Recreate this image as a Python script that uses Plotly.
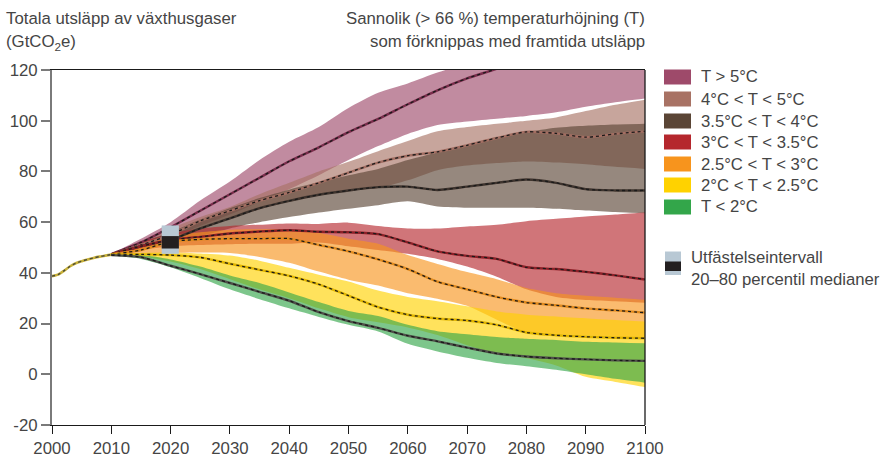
import plotly.graph_objects as go

# ---------------- data ----------------
HIST_YEARS = [2000, 2001, 2002, 2003, 2004, 2005, 2006, 2007, 2008, 2009, 2010]
HIST_VALUES = [38.7, 39.3, 40.8, 42.5, 43.8, 44.6, 45.3, 45.9, 46.4, 46.8, 47.2]

YEARS = [2010, 2015, 2020, 2025, 2030, 2035, 2040, 2045, 2050, 2055,
         2060, 2065, 2070, 2075, 2080, 2085, 2090, 2095, 2100]

CATEGORIES = ["T > 5°C", "4°C < T < 5°C", "3.5°C < T < 4°C", "3°C < T < 3.5°C",
              "2.5°C < T < 3°C", "2°C < T < 2.5°C", "T < 2°C"]

# T > 5°C
T5_UPPER = [47.5, 53.5, 60.0, 68.5, 76.0, 84.5, 91.7, 97.5, 105.0, 111.0,
            114.7, 119.0, 122.5, 125.0, 127.0, 128.5, 130.0, 131.0, 132.0]
T5_MEDIAN = [47.4, 52.0, 58.0, 64.5, 71.0, 77.5, 84.0, 89.5, 95.5, 100.7,
             106.5, 112.0, 116.7, 120.5, 125.0, 128.0, 130.0, 132.0, 134.0]
T5_LOWER = [47.3, 51.0, 54.0, 58.5, 63.0, 68.0, 73.0, 78.5, 84.5, 90.0,
            94.8, 98.3, 99.7, 100.8, 101.9, 103.3, 105.5, 107.3, 108.8]

# 4°C < T < 5°C
T45_UPPER = [47.4, 52.5, 57.5, 62.0, 66.0, 71.0, 75.5, 80.0, 83.8, 88.0,
             92.0, 95.8, 97.5, 98.8, 100.0, 101.3, 103.8, 106.3, 108.3]
T45_MEDIAN = [47.3, 51.0, 55.0, 60.5, 64.5, 68.5, 71.7, 75.5, 79.5, 83.5,
              86.2, 87.7, 90.3, 93.2, 95.6, 95.0, 93.5, 94.8, 95.8]
T45_LOWER = [47.2, 50.0, 52.5, 57.0, 61.5, 65.0, 68.0, 70.5, 72.5, 73.5,
             76.5, 80.5, 82.3, 83.3, 83.9, 83.5, 82.8, 81.8, 81.0]

# 3.5°C < T < 4°C
T354_UPPER = [47.4, 52.0, 56.0, 61.0, 65.5, 69.5, 72.8, 75.8, 78.5, 81.0,
              84.5, 87.5, 90.0, 93.5, 95.5, 97.2, 98.0, 98.5, 98.8]
T354_MEDIAN = [47.3, 50.5, 53.0, 57.5, 61.5, 65.5, 68.4, 70.8, 72.5, 73.8,
               74.0, 72.7, 74.0, 75.5, 76.8, 75.5, 73.0, 72.5, 72.5]
T354_LOWER = [47.2, 49.5, 52.0, 54.5, 57.5, 60.0, 62.0, 63.8, 65.3, 66.7,
              68.2, 66.2, 65.7, 65.7, 65.7, 65.3, 64.6, 64.0, 63.5]

# 3°C < T < 3.5°C
T335_UPPER = [47.4, 52.0, 55.5, 57.5, 58.5, 59.0, 59.5, 59.3, 59.8, 58.5,
              57.5, 57.5, 58.3, 59.0, 60.4, 61.3, 62.2, 63.0, 63.8]
T335_MEDIAN = [47.3, 50.5, 53.0, 54.2, 55.5, 56.3, 56.8, 56.2, 56.0, 55.3,
               52.0, 48.5, 46.7, 45.5, 42.2, 41.5, 40.4, 39.0, 37.4]
T335_LOWER = [47.2, 49.0, 50.5, 51.0, 51.3, 51.5, 51.5, 52.0, 50.5, 49.0,
              47.5, 45.5, 42.5, 38.5, 33.5, 30.5, 29.3, 28.8, 28.2]

# 2.5°C < T < 3°C
T253_UPPER = [47.3, 51.5, 54.5, 56.0, 57.0, 57.2, 57.0, 55.8, 53.5, 51.5,
              47.0, 43.5, 40.3, 37.5, 34.0, 32.0, 31.0, 30.2, 29.4]
T253_MEDIAN = [47.3, 49.0, 52.3, 53.2, 53.5, 53.5, 53.5, 51.0, 48.5, 45.3,
               41.5, 36.5, 33.5, 30.5, 28.3, 27.2, 26.0, 25.2, 24.3]
T253_LOWER = [47.2, 47.5, 47.8, 48.0, 47.8, 46.3, 44.0, 40.5, 37.3, 35.0,
              32.0, 29.8, 27.0, 21.5, 16.5, 15.8, 15.3, 14.8, 14.2]

# 2°C < T < 2.5°C
T225_UPPER = [47.3, 47.8, 48.0, 47.6, 46.8, 44.8, 42.0, 39.3, 36.6, 33.0,
              30.5, 28.8, 26.8, 24.8, 23.5, 22.8, 22.1, 21.4, 20.8]
T225_MEDIAN = [47.2, 47.3, 47.0, 46.1, 43.6, 41.2, 38.8, 35.5, 31.0, 26.5,
               23.5, 22.0, 21.2, 19.5, 16.5, 15.4, 14.8, 14.4, 14.2]
T225_LOWER = [47.0, 46.5, 44.5, 41.5, 37.5, 33.5, 30.0, 26.0, 22.5, 20.5,
              18.5, 15.5, 11.5, 8.0, 6.3, 3.5, -1.0, -3.0, -5.0]

# T < 2°C
T2_UPPER = [47.2, 47.0, 45.3, 42.5, 39.0, 36.0, 32.3, 28.5, 25.0, 23.0,
            19.5, 17.0, 15.8, 14.7, 14.0, 13.5, 12.8, 12.5, 12.2]
T2_MEDIAN = [47.0, 46.2, 42.8, 39.5, 36.0, 32.5, 29.0, 24.5, 21.0, 18.3,
             15.2, 13.0, 10.5, 8.2, 7.0, 6.3, 5.9, 5.5, 5.3]
T2_LOWER = [46.8, 45.5, 42.2, 38.0, 33.5, 29.6, 26.0, 22.6, 19.5, 16.9,
            12.0, 9.0, 6.5, 4.5, 3.2, 1.8, 0.0, -1.8, -3.3]

PLEDGE_YEAR = 2020
PLEDGE_RANGE = [47.5, 58.7]
PLEDGE_MEDIANS = [49.6, 54.5]

X_TICKS = list(range(2000, 2101, 10))
Y_TICKS = list(range(-20, 121, 20))

# ---------------- styles ----------------
SWATCH = ["#9e4a6a", "#a87264", "#5a4535", "#b5272d", "#f7941d", "#ffd200", "#33a64a"]
ALPHA = 0.64
MED_UNDER = ["#7a2d4c", "#a36e62", "#3f342e", "#8e2028", "#e08a1e", "#e2b600", "#4f504a"]

bands = [
    (T5_LOWER, T5_MEDIAN, T5_UPPER),
    (T45_LOWER, T45_MEDIAN, T45_UPPER),
    (T354_LOWER, T354_MEDIAN, T354_UPPER),
    (T335_LOWER, T335_MEDIAN, T335_UPPER),
    (T253_LOWER, T253_MEDIAN, T253_UPPER),
    (T225_LOWER, T225_MEDIAN, T225_UPPER),
    (T2_LOWER, T2_MEDIAN, T2_UPPER),
]


def rgba(hexc, a):
    h = hexc.lstrip("#")
    r, g, b = int(h[0:2], 16), int(h[2:4], 16), int(h[4:6], 16)
    return f"rgba({r},{g},{b},{a})"


FONT = "Liberation Sans, Arial, sans-serif"
TXT = "#454545"
FS = 16.8
FS_LEG = 16.7

fig = go.Figure()
SHAPE = dict(shape="spline", smoothing=0.7)

for i, (lo, med, up) in enumerate(bands):
    fig.add_trace(go.Scatter(x=YEARS, y=lo, mode="lines",
                             line=dict(width=0, color=rgba(SWATCH[i], 0), **SHAPE),
                             hoverinfo="skip", showlegend=False))
    fig.add_trace(go.Scatter(x=YEARS, y=up, mode="lines", fill="tonexty",
                             fillcolor=rgba(SWATCH[i], ALPHA),
                             line=dict(width=0, color=rgba(SWATCH[i], 0), **SHAPE),
                             hoverinfo="skip", showlegend=False, name=CATEGORIES[i]))

# history line
fig.add_trace(go.Scatter(x=HIST_YEARS, y=HIST_VALUES, mode="lines",
                         line=dict(width=2.6, color="#c9b23a", **SHAPE),
                         hoverinfo="skip", showlegend=False))
fig.add_trace(go.Scatter(x=HIST_YEARS, y=HIST_VALUES, mode="lines",
                         line=dict(width=1.4, color="#4a4a3a", dash="dot", **SHAPE),
                         hoverinfo="skip", showlegend=False))

for i, (lo, med, up) in enumerate(bands):
    fig.add_trace(go.Scatter(x=YEARS, y=med, mode="lines",
                             line=dict(width=2.4, color=MED_UNDER[i], **SHAPE),
                             hoverinfo="skip", showlegend=False))
    fig.add_trace(go.Scatter(x=YEARS, y=med, mode="lines",
                             line=dict(width=1.3, color="#1a1a1a", dash="dot", **SHAPE),
                             hoverinfo="skip", showlegend=False))

# pledge box (data coordinates)
fig.add_shape(type="rect", xref="x", yref="y",
              x0=PLEDGE_YEAR - 1.5, x1=PLEDGE_YEAR + 1.4,
              y0=PLEDGE_RANGE[0], y1=PLEDGE_RANGE[1],
              fillcolor="#b8c8d4", line=dict(width=0), layer="above")
fig.add_shape(type="rect", xref="x", yref="y",
              x0=PLEDGE_YEAR - 1.5, x1=PLEDGE_YEAR + 1.4,
              y0=PLEDGE_MEDIANS[0], y1=PLEDGE_MEDIANS[1],
              fillcolor="#231f20", line=dict(width=0), layer="above")

# ---------------- layout geometry ----------------
W, H = 883, 457
L, R, T, B = 52, 645, 70, 425
PW, PH = R - L, B - T


def px(x):
    return (x - L) / PW


def py(y):
    return 1 - (y - T) / PH


# right border
fig.add_shape(type="line", xref="paper", yref="paper", x0=1, x1=1, y0=0, y1=1,
              line=dict(color="#1a1a1a", width=1.3), layer="above")

annotations = []
# titles
annotations.append(dict(text="Totala utsläpp av växthusgaser", x=px(4), y=py(19),
                        xanchor="left", yanchor="middle", font_size=FS))
annotations.append(dict(text="(GtCO<sub>2</sub>e)", x=px(4), y=py(42),
                        xanchor="left", yanchor="middle", font_size=FS))
annotations.append(dict(text="Sannolik (> 66 %) temperaturhöjning (T)", x=px(647), y=py(19),
                        xanchor="right", yanchor="middle", font_size=FS))
annotations.append(dict(text="som förknippas med framtida utsläpp", x=px(647), y=py(41),
                        xanchor="right", yanchor="middle", font_size=FS))

# legend
row_y = [77, 99, 121, 142, 164, 185, 207]
for i, cat in enumerate(CATEGORIES):
    yc = row_y[i]
    fig.add_shape(type="rect", xref="paper", yref="paper",
                  x0=px(664), x1=px(691), y0=py(yc + 7.5), y1=py(yc - 7.5),
                  fillcolor=SWATCH[i], line=dict(width=0))
    annotations.append(dict(text=cat, x=px(699), y=py(yc), xanchor="left", yanchor="middle",
                            font_size=FS_LEG))

fig.add_shape(type="rect", xref="paper", yref="paper",
              x0=px(665), x1=px(681), y0=py(275), y1=py(251.5),
              fillcolor="#b8c8d4", line=dict(width=0))
fig.add_shape(type="rect", xref="paper", yref="paper",
              x0=px(665), x1=px(681), y0=py(271), y1=py(261.5),
              fillcolor="#231f20", line=dict(width=0))
annotations.append(dict(text="Utfästelseintervall", x=px(689), y=py(257),
                        xanchor="left", yanchor="middle", font_size=FS_LEG))
annotations.append(dict(text="20–80 percentil medianer", x=px(689), y=py(279),
                        xanchor="left", yanchor="middle", font_size=FS_LEG))

for a in annotations:
    size = a.pop("font_size")
    a.update(xref="paper", yref="paper", showarrow=False,
             font=dict(family=FONT, size=size, color=TXT))

fig.update_layout(
    width=W, height=H, autosize=False,
    margin=dict(l=L, r=W - R, t=T, b=H - B, pad=0, autoexpand=False),
    paper_bgcolor="white", plot_bgcolor="white",
    font=dict(family=FONT, size=FS, color=TXT),
    annotations=annotations,
    showlegend=False,
    xaxis=dict(range=[2000, 2100], tickvals=X_TICKS, ticktext=[str(v) for v in X_TICKS],
               showgrid=False, zeroline=False, showline=True, linecolor="#1a1a1a",
               linewidth=1.3, mirror=True, ticks="outside", ticklen=8, tickcolor="#1a1a1a",
               tickwidth=1.3, automargin=False, tickfont=dict(family=FONT, size=FS, color=TXT)),
    yaxis=dict(range=[-20, 120], tickvals=Y_TICKS, ticktext=[str(v) for v in Y_TICKS],
               showgrid=False, zeroline=False, showline=True, linecolor="#7a7a7a",
               linewidth=2, ticks="outside", ticklen=9, tickcolor="#7a7a7a", tickwidth=1.5,
               automargin=False, tickfont=dict(family=FONT, size=FS, color=TXT)),
)

fig.write_html("out.html", config={"displayModeBar": False},
               post_script="document.body.style.margin='0px';")
